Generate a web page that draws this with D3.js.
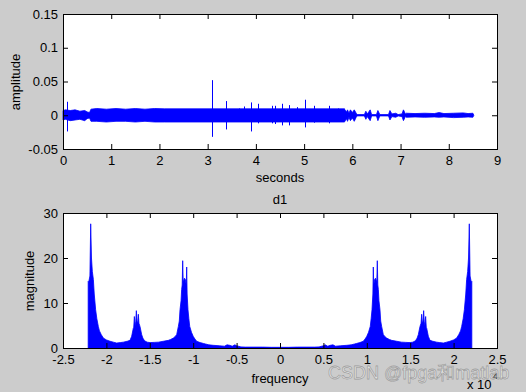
<!DOCTYPE html>
<html>
<head>
<meta charset="utf-8">
<script src="https://cdn.jsdelivr.net/npm/d3@7"></script>
<style>
  body { margin: 0; background: #cccccc; }
  svg { display: block; font-family: "Liberation Sans", Arial, sans-serif; }
</style>
</head>
<body>
<svg id="chart" width="526" height="392"></svg>
<script>
// top plot: signal envelope (seconds, amplitude)
const envT  = [0, 0.05, 0.15, 0.25, 0.35, 0.45, 0.5, 0.55, 0.58, 0.7, 0.9, 1.1, 1.3, 1.5, 1.7, 1.9, 2.1, 5.84,
               5.845, 5.88, 5.9, 5.93, 5.96, 6.0, 6.04, 6.08, 6.1, 6.25, 6.28, 6.31, 6.34, 6.37, 6.4, 6.5, 6.53, 6.57,
               6.75, 6.78, 6.82, 6.9, 6.95, 7.03, 7.06, 7.1, 7.12, 7.3, 7.5, 7.7, 7.8, 7.9, 8.1, 8.3, 8.4, 8.5, 8.52];
const envHi = [0.007, 0.008, 0.007, 0.008, 0.006, 0.007, 0.005, 0.004, 0.009, 0.010, 0.009, 0.010, 0.009, 0.010, 0.009, 0.010, 0.0095, 0.0095,
               0.008, 0.005, 0.008, 0.003, 0.008, 0.004, 0.008, 0.003, 0.001, 0.001, 0.006, 0.002, 0.005, 0.008, 0.001, 0.001, 0.007, 0.001,
               0.001, 0.007, 0.002, 0.003, 0.001, 0.002, 0.008, 0.002, 0.003, 0.0025, 0.003, 0.0025, 0.004, 0.0025, 0.003, 0.0035, 0.0025, 0.003, 0];
const envLo = [-0.007, -0.006, -0.008, -0.007, -0.006, -0.008, -0.005, -0.004, -0.009, -0.009, -0.010, -0.009, -0.009, -0.010, -0.009, -0.010, -0.010, -0.010,
               -0.009, -0.005, -0.009, -0.003, -0.008, -0.004, -0.009, -0.003, -0.001, -0.001, -0.006, -0.002, -0.005, -0.008, -0.001, -0.001, -0.008, -0.001,
               -0.001, -0.007, -0.002, -0.003, -0.001, -0.002, -0.008, -0.002, -0.003, -0.0025, -0.003, -0.0025, -0.003, -0.0025, -0.0035, -0.003, -0.0025, -0.003, 0];

// isolated spikes
const spikeT  = [0.09, 3.10, 3.39, 3.64, 3.76, 3.89, 4.05, 4.34, 4.40, 4.55, 4.69, 4.85, 5.01, 5.21, 5.52, 5.71];
const spikeHi = [0.020, 0.052, 0.021, 0.010, 0.013, 0.019, 0.017, 0.014, 0.014, 0.017, 0.015, 0.012, 0.023, 0.014, 0.014, 0.010];
const spikeLo = [-0.024, -0.032, -0.021, -0.010, -0.010, -0.024, -0.012, -0.012, -0.013, -0.015, -0.015, -0.010, -0.018, -0.011, -0.012, -0.010];

// bottom plot: magnitude spectrum, positive half (frequency in x10^4)
const freqPos = [0, 0.1, 0.2, 0.3, 0.4, 0.45, 0.5, 0.52, 0.55, 0.58, 0.61, 0.64, 0.7, 0.77, 0.82, 0.86, 0.88, 0.92, 0.96, 0.98,
                 1.0, 1.02, 1.04, 1.05, 1.06, 1.07, 1.075, 1.08, 1.09, 1.1, 1.11, 1.115, 1.121, 1.127, 1.133, 1.14, 1.152, 1.16, 1.171, 1.19,
                 1.21, 1.229, 1.26, 1.286, 1.344, 1.4, 1.45, 1.498, 1.53, 1.56, 1.58, 1.594, 1.613, 1.625, 1.632, 1.64, 1.648, 1.655, 1.662, 1.67,
                 1.678, 1.685, 1.69, 1.709, 1.728, 1.76, 1.805, 1.84, 1.882, 1.92, 1.958, 2.0, 2.035, 2.06, 2.08, 2.093, 2.11, 2.124, 2.14, 2.15,
                 2.162, 2.172, 2.181, 2.19, 2.2, 2.21];
const magPos  = [0.15, 0.15, 0.2, 0.2, 0.2, 0.25, 0.5, 0.7, 0.4, 0.6, 0.7, 0.4, 0.5, 0.6, 0.7, 0.9, 1.0, 1.2, 1.5, 2.0,
                 2.6, 3.5, 4.8, 6.5, 8.5, 12, 18, 14, 15.2, 15.5, 15, 14.5, 19.4, 14, 13, 10.5, 8.5, 6, 4.8, 3.0,
                 2.5, 2.2, 1.9, 1.7, 1.5, 1.3, 1.25, 1.2, 1.3, 1.6, 2.2, 3.0, 4.8, 5.5, 7.5, 5.5, 6, 8.3, 5.8, 5,
                 7, 4.6, 4.4, 2.6, 1.7, 1.5, 1.3, 1.2, 1.1, 1.3, 1.5, 1.8, 2.2, 3, 3.8, 4.8, 6.5, 8.5, 12, 15.2,
                 17, 20, 27.6, 16, 15, 14.8];

const topXTicks = [0, 1, 2, 3, 4, 5, 6, 7, 8, 9];
const topYTicks = [-0.05, 0, 0.05, 0.1, 0.15];
const topYLabels = ['-0.05', '0', '0.05', '0.1', '0.15'];
const botXTicks = [-2.5, -2, -1.5, -1, -0.5, 0, 0.5, 1, 1.5, 2, 2.5];
const botXLabels = ['-2.5', '-2', '-1.5', '-1', '-0.5', '0', '0.5', '1', '1.5', '2', '2.5'];
const botYTicks = [0, 10, 20, 30];

const svg = d3.select('#chart');
const blue = '#0000ff';

function drawBox(g, x, y, xTicks, xLabels, yTicks, yLabels) {
  const [x0, x1] = x.range();
  const [y0, y1] = y.range();
  g.append('rect')
    .attr('x', x0).attr('y', y1)
    .attr('width', x1 - x0).attr('height', y0 - y1)
    .attr('fill', '#fff');
  return function frame() {
    const ax = (axis, tx, ty, labels) => {
      const a = g.append('g').attr('transform', `translate(${tx},${ty})`).call(axis);
      a.select('.domain').remove();
      a.selectAll('line').attr('stroke', '#000');
      a.selectAll('text').attr('fill', '#000').style('font-size', '13px');
      if (!labels) a.selectAll('text').remove();
      return a;
    };
    ax(d3.axisBottom(x).tickValues(xTicks).tickSize(-5).tickPadding(7).tickFormat((d, i) => xLabels[i]), 0, y0, true);
    ax(d3.axisTop(x).tickValues(xTicks).tickSize(-5), 0, y1, false);
    ax(d3.axisLeft(y).tickValues(yTicks).tickSize(-5).tickPadding(5).tickFormat((d, i) => yLabels[i]), x0, 0, true);
    ax(d3.axisRight(y).tickValues(yTicks).tickSize(-5), x1, 0, false);
    g.append('rect')
      .attr('x', x0 + 0.5).attr('y', y1 + 0.5)
      .attr('width', x1 - x0).attr('height', y0 - y1)
      .attr('fill', 'none').attr('stroke', '#000');
  };
}

// ---- top: amplitude vs seconds
const x1 = d3.scaleLinear().domain([0, 9]).range([63, 497]);
const y1 = d3.scaleLinear().domain([-0.05, 0.15]).range([149, 14]);
const gTop = svg.append('g');
const frameTop = drawBox(gTop, x1, y1, topXTicks, topXTicks.map(String), topYTicks, topYLabels);

const env = envT.map((t, i) => ({ t, hi: envHi[i], lo: envLo[i] }));
gTop.append('path')
  .datum(env)
  .attr('d', d3.area().x(d => x1(d.t)).y0(d => y1(d.lo)).y1(d => y1(d.hi)))
  .attr('fill', blue).attr('stroke', blue).attr('stroke-width', 0.8);

gTop.selectAll('line.spike')
  .data(spikeT.map((t, i) => ({ t, hi: spikeHi[i], lo: spikeLo[i] })))
  .enter()
  .append('line')
  .attr('class', 'spike')
  .attr('x1', d => Math.round(x1(d.t)) + 0.5).attr('x2', d => Math.round(x1(d.t)) + 0.5)
  .attr('y1', d => y1(d.hi)).attr('y2', d => y1(d.lo))
  .attr('stroke', blue).attr('stroke-width', 1);
frameTop();

gTop.append('text').attr('x', 280).attr('y', 182).attr('text-anchor', 'middle')
  .style('font-size', '13px').text('seconds');
gTop.append('text').attr('transform', 'translate(20,82) rotate(-90)').attr('text-anchor', 'middle')
  .style('font-size', '13px').text('amplitude');

// ---- bottom: magnitude vs frequency
const x2 = d3.scaleLinear().domain([-2.5, 2.5]).range([63, 497]);
const y2 = d3.scaleLinear().domain([0, 30]).range([348, 213]);
const gBot = svg.append('g');
const frameBot = drawBox(gBot, x2, y2, botXTicks, botXLabels, botYTicks, botYTicks.map(String));

const spec = freqPos.slice(1).map((f, i) => ({ f: -f, m: magPos[i + 1] })).reverse()
  .concat(freqPos.map((f, i) => ({ f, m: magPos[i] })));
gBot.append('path')
  .datum(spec)
  .attr('d', d3.area().x(d => x2(d.f)).y0(y2(0)).y1(d => y2(d.m)))
  .attr('fill', blue).attr('stroke', blue).attr('stroke-width', 0.8);
frameBot();

gBot.append('text').attr('x', 280).attr('y', 204).attr('text-anchor', 'middle')
  .style('font-size', '13px').text('d1');
gBot.append('text').attr('x', 280).attr('y', 383).attr('text-anchor', 'middle')
  .style('font-size', '13px').text('frequency');
gBot.append('text').attr('transform', 'translate(34,281) rotate(-90)').attr('text-anchor', 'middle')
  .style('font-size', '13px').text('magnitude');
gBot.append('text').attr('x', 467).attr('y', 389).style('font-size', '13px').text('x 10');
gBot.append('text').attr('x', 493).attr('y', 379).style('font-size', '9px').text('4');

// watermark
svg.append('text').attr('x', 328).attr('y', 379)
  .style('font-size', '18px')
  .attr('fill', 'rgba(255,255,255,0.55)').attr('stroke', 'rgba(90,90,90,0.45)').attr('stroke-width', 0.8)
  .text('CSDN @fpga和matlab');
</script>
</body>
</html>
